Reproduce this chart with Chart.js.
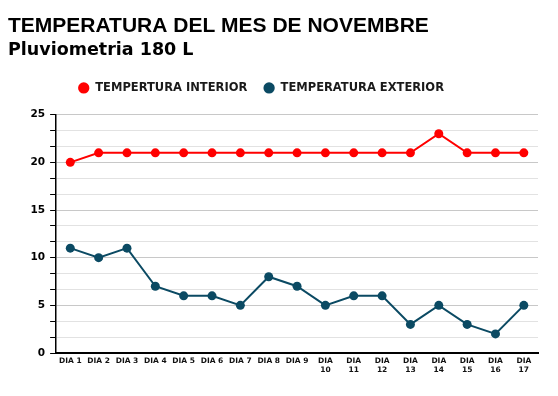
<!DOCTYPE html>
<html>
<head>
<meta charset="utf-8">
<script src="https://cdn.jsdelivr.net/npm/chart.js@4.4.1/dist/chart.umd.min.js"></script>
<style>
  html, body { margin: 0; padding: 0; background: #fff; }
  #wrap { width: 558px; height: 396px; }
</style>
</head>
<body>
<div id="wrap"><canvas id="chart" width="558" height="396"></canvas></div>
<script>
const DAYS = ["DIA 1", "DIA 2", "DIA 3", "DIA 4", "DIA 5", "DIA 6", "DIA 7", "DIA 8", "DIA 9",
  "DIA 10", "DIA 11", "DIA 12", "DIA 13", "DIA 14", "DIA 15", "DIA 16", "DIA 17"];
const TEMP_INTERIOR = [20, 21, 21, 21, 21, 21, 21, 21, 21, 21, 21, 21, 21, 23, 21, 21, 21];
const TEMP_EXTERIOR = [11, 10, 11, 7, 6, 6, 5, 8, 7, 5, 6, 6, 3, 5, 3, 2, 5];

const RED = "#ff0000";
const TEAL = "#0b4a63";
const BOLD = "DejaVu Sans";

// long labels get split in two lines, like the original
const tickLabels = DAYS.map(d => d.length > 5 ? d.split(" ") : d);

const isMajor = (v) => Math.abs(v / 5 - Math.round(v / 5)) < 0.01;

// more room under the legend, and nudge it a little to the left
const legendTweak = {
  id: "legendTweak",
  beforeInit(chart) {
    const fit = chart.legend.fit;
    chart.legend.fit = function () {
      fit.bind(chart.legend)();
      this.height += 11;
    };
  },
  afterLayout(chart) {
    chart.legend.left -= 12;
    chart.legend.right -= 12;
  }
};

new Chart(document.getElementById("chart"), {
  type: "line",
  data: {
    labels: tickLabels,
    datasets: [
      {
        label: "TEMPERTURA INTERIOR",
        data: TEMP_INTERIOR,
        borderColor: RED,
        backgroundColor: RED,
        borderWidth: 2,
        pointRadius: 4.5,
        pointBorderWidth: 0,
        pointHoverRadius: 4.5,
        tension: 0
      },
      {
        label: "TEMPERATURA EXTERIOR",
        data: TEMP_EXTERIOR,
        borderColor: TEAL,
        backgroundColor: TEAL,
        borderWidth: 2,
        pointRadius: 4.5,
        pointBorderWidth: 0,
        pointHoverRadius: 4.5,
        tension: 0
      }
    ]
  },
  plugins: [legendTweak],
  options: {
    responsive: false,
    animation: false,
    layout: { padding: { left: 8, right: 20, top: 14, bottom: 17 } },
    plugins: {
      title: {
        display: true,
        text: "TEMPERATURA DEL MES DE NOVEMBRE",
        align: "start",
        color: "#000",
        font: { family: "Liberation Sans", size: 21, weight: "bold" },
        padding: { top: 0, bottom: 0 }
      },
      subtitle: {
        display: true,
        text: "Pluviometria 180 L",
        align: "start",
        color: "#000",
        font: { family: BOLD, size: 17.5, weight: "bold" },
        padding: { top: 1, bottom: 5 }
      },
      legend: {
        position: "top",
        labels: {
          usePointStyle: true,
          pointStyle: "circle",
          boxWidth: 11.5,
          boxHeight: 8,
          padding: 16,
          color: "#1a1a1a",
          font: { family: BOLD, size: 11.5, weight: "bold" }
        }
      },
      tooltip: { enabled: false }
    },
    scales: {
      x: {
        offset: true,
        grid: { display: false, drawTicks: false },
        border: { color: "#000", width: 2 },
        ticks: {
          color: "#111",
          autoSkip: false,
          maxRotation: 0,
          padding: 4,
          font: { family: BOLD, size: 7.5, weight: "bold" }
        }
      },
      y: {
        min: 0,
        max: 25,
        afterBuildTicks: (axis) => {
          const ticks = [];
          for (let i = 0; i <= 15; i++) ticks.push({ value: i * 5 / 3 });
          axis.ticks = ticks;
        },
        afterFit: (axis) => { axis.width += 17.5; },
        grid: {
          color: (ctx) => isMajor(ctx.tick.value) ? "#c8c8c8" : "#e2e2e2",
          tickColor: "#000",
          tickLength: 6
        },
        border: { color: "#000", width: 1.5 },
        ticks: {
          color: "#000",
          padding: 5,
          font: { family: BOLD, size: 10.5, weight: "bold" },
          callback: (v) => isMajor(v) ? Math.round(v) : ""
        }
      }
    }
  }
});
</script>
</body>
</html>
